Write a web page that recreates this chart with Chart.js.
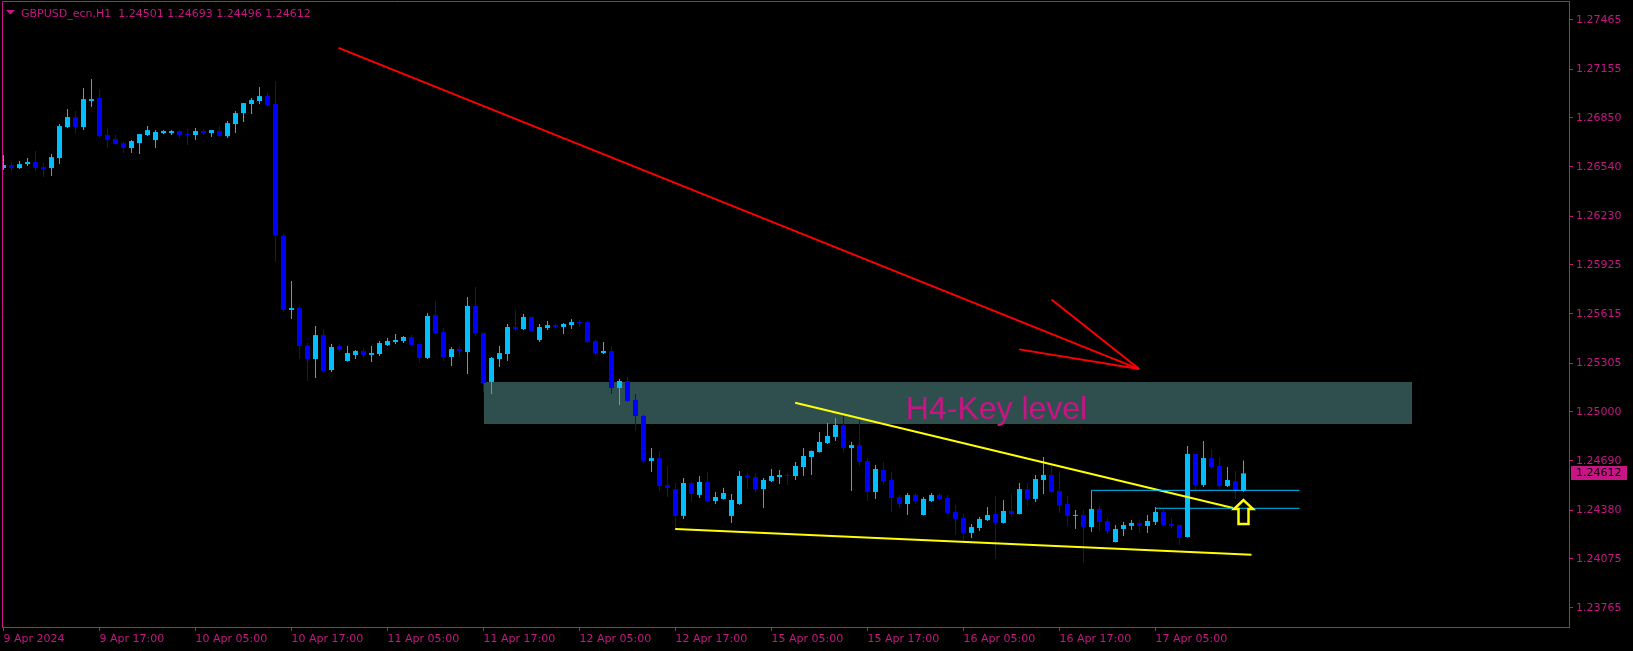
<!DOCTYPE html>
<html>
<head>
<meta charset="utf-8">
<script src="https://cdn.jsdelivr.net/npm/chart.js@4.4.1/dist/chart.umd.min.js"></script>
<style>
html,body{margin:0;padding:0;background:#000;overflow:hidden}
canvas{display:block}
</style>
</head>
<body>
<canvas id="c" width="1633" height="651" style="width:1633px;height:651px"></canvas>
<script>
// ---------- data ----------
const symbolTitle = 'GBPUSD_ecn,H1';

const opens = [
1.26533,1.26552,1.26533,1.26558,1.26571,1.26539,1.26533,1.26596,1.26791,1.26854,
1.26791,1.26955,1.26974,1.26741,1.26716,1.26690,1.26659,1.26690,1.26741,1.26709,
1.26753,1.26753,1.26766,1.26747,1.26741,1.26766,1.26753,1.26766,1.26734,1.26810,
1.26879,1.26936,1.26955,1.26986,1.26936,1.26108,1.25640,1.25652,1.25416,1.25331,
1.25482,1.25262,1.25413,1.25319,1.25357,1.25382,1.25357,1.25363,1.25419,1.25438,
1.25445,1.25470,1.25426,1.25338,1.25608,1.25501,1.25344,1.25394,1.25375,1.25665,
1.25495,1.25187,1.25331,1.25363,1.25533,1.25520,1.25596,1.25451,1.25526,1.25545,
1.25533,1.25545,1.25564,1.25564,1.25445,1.25369,1.25382,1.25149,1.25193,1.25073,
1.24973,1.24690,1.24708,1.24539,1.24513,1.24344,1.24551,1.24476,1.24558,1.24438,
1.24451,1.24344,1.24419,1.24598,1.24589,1.24513,1.24564,1.24589,1.24602,1.24595,
1.24652,1.24715,1.24746,1.24803,1.24841,1.24916,1.24771,1.24790,1.24690,1.24495,
1.24633,1.24570,1.24463,1.24419,1.24476,1.24350,1.24438,1.24476,1.24457,1.24369,
1.24331,1.24237,1.24268,1.24318,1.24356,1.24300,1.24375,1.24356,1.24513,1.24451,
1.24570,1.24602,1.24501,1.24419,1.24344,1.24350,1.24274,1.24388,1.24312,1.24180,
1.24262,1.24281,1.24300,1.24281,1.24306,1.24369,1.24293,1.24287,1.24211,1.24734,
1.24539,1.24708,1.24658,1.24532,1.24564,1.24501
];
const highs = [
1.26615,1.26571,1.26577,1.26596,1.26640,1.26565,1.26621,1.26810,1.26904,1.26892,
1.27037,1.27093,1.27030,1.26785,1.26741,1.26703,1.26709,1.26747,1.26797,1.26772,
1.26772,1.26772,1.26772,1.26779,1.26785,1.26779,1.26772,1.26797,1.26829,1.26892,
1.26942,1.26974,1.27043,1.27005,1.27081,1.26118,1.25822,1.25665,1.25432,1.25539,
1.25520,1.25426,1.25426,1.25413,1.25388,1.25401,1.25413,1.25445,1.25464,1.25489,
1.25476,1.25482,1.25429,1.25621,1.25696,1.25526,1.25407,1.25413,1.25721,1.25784,
1.25498,1.25344,1.25413,1.25552,1.25640,1.25615,1.25599,1.25552,1.25570,1.25552,
1.25558,1.25583,1.25577,1.25570,1.25451,1.25438,1.25413,1.25206,1.25218,1.25111,
1.24979,1.24771,1.24753,1.24658,1.24551,1.24583,1.24558,1.24595,1.24620,1.24495,
1.24520,1.24482,1.24627,1.24614,1.24614,1.24583,1.24639,1.24633,1.24614,1.24683,
1.24771,1.24756,1.24872,1.24929,1.24960,1.24979,1.24809,1.24960,1.24708,1.24664,
1.24683,1.24620,1.24476,1.24488,1.24488,1.24463,1.24488,1.24488,1.24476,1.24413,
1.24356,1.24293,1.24337,1.24400,1.24469,1.24444,1.24482,1.24551,1.24551,1.24602,
1.24715,1.24658,1.24627,1.24469,1.24381,1.24381,1.24406,1.24406,1.24331,1.24287,
1.24306,1.24318,1.24318,1.24350,1.24400,1.24381,1.24331,1.24290,1.24784,1.24737,
1.24815,1.24765,1.24715,1.24652,1.24627,1.24693
];
const lows = [
1.26521,1.26514,1.26527,1.26546,1.26514,1.26477,1.26483,1.26558,1.26785,1.26747,
1.26772,1.26917,1.26722,1.26659,1.26678,1.26628,1.26628,1.26621,1.26734,1.26659,
1.26747,1.26741,1.26722,1.26678,1.26709,1.26741,1.26728,1.26728,1.26722,1.26753,
1.26823,1.26873,1.26936,1.26917,1.25942,1.25627,1.25583,1.25331,1.25193,1.25212,
1.25250,1.25250,1.25375,1.25316,1.25331,1.25344,1.25313,1.25350,1.25413,1.25426,
1.25432,1.25416,1.25313,1.25331,1.25492,1.25319,1.25287,1.25344,1.25237,1.25476,
1.25124,1.25111,1.25281,1.25319,1.25508,1.25514,1.25505,1.25438,1.25514,1.25520,
1.25489,1.25520,1.25533,1.25432,1.25357,1.25363,1.25111,1.25042,1.25061,1.24878,
1.24677,1.24620,1.24501,1.24463,1.24262,1.24325,1.24432,1.24457,1.24432,1.24419,
1.24448,1.24300,1.24413,1.24513,1.24495,1.24394,1.24558,1.24545,1.24539,1.24570,
1.24595,1.24602,1.24743,1.24797,1.24815,1.24740,1.24501,1.24658,1.24438,1.24451,
1.24545,1.24369,1.24394,1.24350,1.24419,1.24347,1.24432,1.24444,1.24359,1.24224,
1.24180,1.24205,1.24249,1.24312,1.24073,1.24297,1.24337,1.24353,1.24406,1.24432,
1.24482,1.24488,1.24362,1.24281,1.24262,1.24048,1.24243,1.24249,1.24230,1.24177,
1.24218,1.24255,1.24237,1.24237,1.24287,1.24284,1.24268,1.24161,1.24208,1.24507,
1.24526,1.24646,1.24526,1.24526,1.24451,1.24496
];
const closes = [
1.26552,1.26533,1.26558,1.26571,1.26533,1.26527,1.26602,1.26797,1.26854,1.26791,
1.26967,1.26967,1.26734,1.26709,1.26684,1.26659,1.26703,1.26747,1.26772,1.26760,
1.26766,1.26766,1.26741,1.26741,1.26766,1.26753,1.26772,1.26734,1.26816,1.26879,
1.26942,1.26961,1.26986,1.26930,1.26108,1.25640,1.25652,1.25413,1.25331,1.25482,
1.25256,1.25407,1.25388,1.25369,1.25382,1.25357,1.25369,1.25432,1.25445,1.25451,
1.25470,1.25419,1.25338,1.25602,1.25495,1.25344,1.25394,1.25382,1.25665,1.25495,
1.25180,1.25338,1.25369,1.25533,1.25520,1.25596,1.25508,1.25533,1.25545,1.25533,
1.25552,1.25564,1.25558,1.25438,1.25369,1.25382,1.25149,1.25193,1.25067,1.24973,
1.24690,1.24708,1.24532,1.24520,1.24344,1.24551,1.24482,1.24558,1.24435,1.24463,
1.24488,1.24444,1.24595,1.24586,1.24513,1.24570,1.24595,1.24602,1.24595,1.24658,
1.24721,1.24753,1.24809,1.24847,1.24916,1.24771,1.24790,1.24683,1.24495,1.24639,
1.24564,1.24457,1.24419,1.24476,1.24438,1.24451,1.24476,1.24451,1.24362,1.24325,
1.24237,1.24274,1.24325,1.24350,1.24300,1.24375,1.24356,1.24513,1.24451,1.24576,
1.24602,1.24495,1.24413,1.24344,1.24350,1.24274,1.24388,1.24306,1.24249,1.24262,
1.24287,1.24300,1.24281,1.24312,1.24369,1.24287,1.24281,1.24205,1.24734,1.24539,
1.24708,1.24652,1.24532,1.24570,1.24501,1.24612
];

// x-axis labels (bar index where each label sits)
const tickIndex  = [0,12,24,36,48,60,72,84,96,108,120,132,144];
const tickLabels = ['9 Apr 2024','9 Apr 17:00','10 Apr 05:00','10 Apr 17:00','11 Apr 05:00',
  '11 Apr 17:00','12 Apr 05:00','12 Apr 17:00','15 Apr 05:00','15 Apr 17:00',
  '16 Apr 05:00','16 Apr 17:00','17 Apr 05:00'];
// price axis ticks
const priceTicks = [1.27465,1.27155,1.26850,1.26540,1.26230,1.25925,1.25615,
  1.25305,1.25000,1.24690,1.24380,1.24075,1.23765];

// drawn objects, in (bar index, price) units
const redTrend   = [[41.875, 1.27289], [141.96, 1.25268]];
const redArrowA  = [[131.0, 1.25706], [141.96, 1.25268]];
const redArrowB  = [[126.96, 1.25392], [141.96, 1.25268]];
const keyZone    = { from: 60, to: 176, top: 1.25187, bottom: 1.24922 };
const keyLabel   = { x: 112.79, price: 1.24952, text: 'H4-Key level' };
const yellowUpper = [[98.96, 1.25056], [153.7, 1.24394]];
const yellowLower = [[83.96, 1.24262], [156.0, 1.24099]];
const cyanUpper  = [[136, 1.24406], [136, 1.24505], [162, 1.24505]];
const cyanLower  = [[144, 1.24392], [162, 1.24392]];
const upArrowAt  = [155, 1.24450];

// ---------- styling ----------
const FG = '#C71585', BULL = '#00BFFF', BEAR = '#0000FF';
const FONT = "'DejaVu Sans'";

const idx = opens.map((_, i) => i);
const colorAt = ctx => (closes[ctx.dataIndex] >= opens[ctx.dataIndex] ? BULL : BEAR);

function polyline(ctx, x, y, pts, color, w) {
  ctx.save();
  ctx.strokeStyle = color; ctx.lineWidth = w; ctx.lineCap = 'butt'; ctx.lineJoin = 'miter';
  ctx.beginPath();
  pts.forEach((p, k) => {
    const px = x.getPixelForValue(p[0]), py = y.getPixelForValue(p[1]);
    if (k === 0) ctx.moveTo(px, py); else ctx.lineTo(px, py);
  });
  ctx.stroke();
  ctx.restore();
}

const overlay = {
  id: 'overlay',
  beforeDraw(chart) {
    const c = chart.ctx;
    c.save(); c.fillStyle = '#000'; c.fillRect(0, 0, chart.width, chart.height); c.restore();
  },
  beforeDatasetsDraw(chart) {
    const { ctx, scales: { x, y } } = chart;
    const x0 = Math.round(x.getPixelForValue(keyZone.from)), x1 = Math.round(x.getPixelForValue(keyZone.to));
    const y0 = Math.round(y.getPixelForValue(keyZone.top)), y1 = Math.round(y.getPixelForValue(keyZone.bottom));
    ctx.save();
    ctx.fillStyle = '#2F4F4F';
    ctx.fillRect(x0, y0, x1 - x0, y1 - y0);
    ctx.restore();
  },
  afterDatasetsDraw(chart) {
    const { ctx, scales: { x, y } } = chart;
    // key level caption
    ctx.save();
    ctx.fillStyle = FG;
    ctx.font = "32px 'Liberation Sans', Arial, sans-serif";
    ctx.textBaseline = 'alphabetic'; ctx.textAlign = 'left';
    ctx.fillText(keyLabel.text, x.getPixelForValue(keyLabel.x), y.getPixelForValue(keyLabel.price));
    ctx.restore();
    // lines
    polyline(ctx, x, y, yellowUpper, '#FFFF00', 2);
    polyline(ctx, x, y, yellowLower, '#FFFF00', 2);
    polyline(ctx, x, y, cyanUpper, BULL, 1);
    polyline(ctx, x, y, cyanLower, BULL, 1);
    polyline(ctx, x, y, redTrend, '#FF0000', 2);
    polyline(ctx, x, y, redArrowA, '#FF0000', 2);
    polyline(ctx, x, y, redArrowB, '#FF0000', 2);
    // up arrow
    const ax = x.getPixelForValue(upArrowAt[0]), ay = y.getPixelForValue(upArrowAt[1]);
    const shape = [[0,0],[9.5,10],[5,10],[5,25],[-5,25],[-5,10],[-9.5,10]];
    ctx.save();
    ctx.beginPath();
    shape.forEach((p, k) => { if (k === 0) ctx.moveTo(ax + p[0], ay + p[1] + 1); else ctx.lineTo(ax + p[0], ay + p[1]); });
    ctx.closePath();
    ctx.strokeStyle = '#FFFF00'; ctx.lineWidth = 2.5; ctx.lineJoin = 'miter';
    ctx.stroke();
    ctx.restore();
  },
  afterDraw(chart) {
    const { ctx, chartArea: a, scales: { y } } = chart;
    ctx.save();
    // top and left frame lines
    ctx.strokeStyle = FG; ctx.lineWidth = 1;
    ctx.beginPath();
    ctx.moveTo(a.left + 0.5, a.bottom); ctx.lineTo(a.left + 0.5, a.top - 0.5); ctx.lineTo(a.right + 1, a.top - 0.5);
    ctx.stroke();
    // header
    ctx.fillStyle = FG;
    ctx.beginPath(); ctx.moveTo(6, 10); ctx.lineTo(15, 10); ctx.lineTo(10.5, 14.5); ctx.closePath(); ctx.fill();
    const L = opens.length - 1;
    ctx.font = "11px " + FONT;
    ctx.textBaseline = 'alphabetic'; ctx.textAlign = 'left';
    ctx.fillText(symbolTitle + '  ' + [opens[L], highs[L], lows[L], closes[L]].map(v => v.toFixed(5)).join(' '), 21, 17);
    // current price tag
    const py = y.getPixelForValue(closes[L]);
    ctx.fillStyle = FG;
    ctx.fillRect(a.right + 2, Math.round(py - 7), 56, 14);
    ctx.fillStyle = '#000';
    ctx.textBaseline = 'middle';
    ctx.fillText(closes[L].toFixed(5), a.right + 7, py);
    ctx.restore();
  }
};

new Chart(document.getElementById('c'), {
  type: 'bar',
  data: {
    datasets: [
      { label: 'body', data: idx.map(i => ({ x: i, y: [opens[i], closes[i]] })),
        backgroundColor: colorAt, barThickness: 5, minBarLength: 1, grouped: false,
        inflateAmount: 0, borderWidth: 0, order: 0 },
      { label: 'wick', data: idx.map(i => ({ x: i, y: [lows[i], highs[i]] })),
        backgroundColor: colorAt, barThickness: 1, minBarLength: 1, grouped: false,
        inflateAmount: 0, borderWidth: 0, order: 1 }
    ]
  },
  options: {
    responsive: false, animation: false, devicePixelRatio: 1,
    layout: { padding: { left: 2, top: 2, right: 0, bottom: 0 } },
    plugins: { legend: { display: false }, tooltip: { enabled: false } },
    scales: {
      x: {
        type: 'linear', min: -0.1875, max: 195.6875, offset: false,
        grid: { display: true, offset: false, drawOnChartArea: false, drawTicks: true, tickLength: 4, color: FG, tickColor: FG },
        border: { display: true, color: FG, width: 1 },
        afterBuildTicks: s => { s.ticks = tickIndex.map(v => ({ value: v })); },
        afterFit: s => { s.height = 24; s.paddingLeft = 0; s.paddingRight = 0; },
        ticks: {
          autoSkip: false, maxRotation: 0, minRotation: 0, align: 'start', padding: 2,
          color: FG, font: { family: 'DejaVu Sans', size: 11 },
          callback: v => { const k = tickIndex.indexOf(v); return k >= 0 ? tickLabels[k] : ''; }
        }
      },
      y: {
        type: 'linear', position: 'right', min: 1.23645, max: 1.27578, beginAtZero: false,
        grid: { display: true, drawOnChartArea: false, drawTicks: true, tickLength: 4, color: FG, tickColor: FG },
        border: { display: true, color: FG, width: 1 },
        afterBuildTicks: s => { s.ticks = priceTicks.map(v => ({ value: v })); },
        afterFit: s => { s.width = 64; s.paddingTop = 0; s.paddingBottom = 0; },
        ticks: {
          autoSkip: false, padding: 3, color: FG, font: { family: 'DejaVu Sans', size: 11 },
          callback: v => Number(v).toFixed(5)
        }
      }
    }
  },
  plugins: [overlay]
});
</script>
</body>
</html>
